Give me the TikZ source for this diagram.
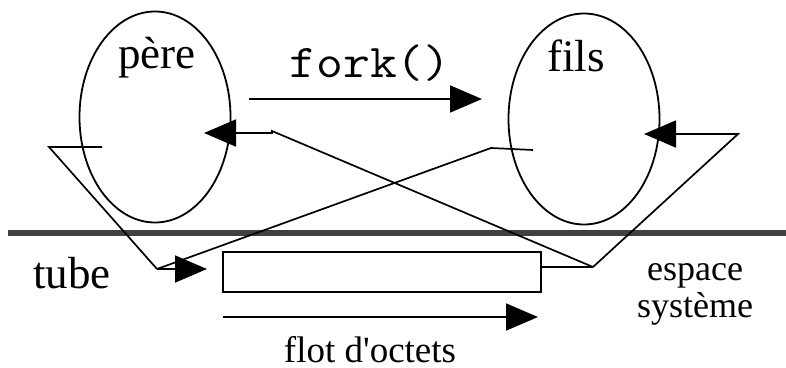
\documentclass[tikz,border=0pt]{standalone}
\usepackage{fontspec}
\usepackage{graphicx}
\setmainfont{Liberation Serif}[Ligatures=TeXOff]
\usetikzlibrary{shapes.geometric,arrows.meta}
\begin{document}
\begin{tikzpicture}[x=1pt,y=-1pt,
  ln/.style={line width=1.7pt, line join=miter},
  arr/.style={ln, -{Triangle[length=32pt,width=27pt]}},
  proc/.style={draw, ellipse, line width=1.8pt, minimum width=151pt, minimum height=211pt, inner sep=0pt},
  big/.style={font=\fontsize{45}{50}\selectfont, inner sep=0pt, anchor=base},
  small/.style={font=\fontsize{36}{40}\selectfont, inner sep=0pt, anchor=base},
  mono/.style={font=\fontsize{47}{50}\selectfont\ttfamily, inner sep=0pt, anchor=base}]
\useasboundingbox (0,0) rectangle (786,367);
% separator
\draw[line width=6pt, color=black!75] (8,233) -- (786,233);
% processes
\node[proc] (pere) at (155,117) {};
\node[proc] (fils) at (584,119) {};
\node[big] (lpere) at (157,68) {père};
\node[big] (lfils) at (576,71) {fils};
\node[mono] (lfork) at (370,77) {\scalebox{1.11}[1]{fork()}};
\node[big] (ltube) at (72,288) {tube};
\node[small] (lesp) at (695,280) {espace};
\node[small] (lsys) at (695,317) {système};
\node[font=\fontsize{37}{40}\selectfont, inner sep=0pt, anchor=base] (lflot) at (370,362) {flot d'octets};
% tube
\node[draw, line width=1.8pt, minimum width=318pt, minimum height=40pt, inner sep=0pt] (tube) at (382,272) {};
% coordinates
\coordinate (fk0) at (249,99);
\coordinate (fk1) at (482,99);
\coordinate (pw) at (102,147);
\coordinate (pwc) at (49,147);
\coordinate (fw) at (533,150);
\coordinate (fwc) at (491,148);
\coordinate (j) at (157,269);
\coordinate (jt) at (207,269);
\coordinate (r) at (593,267);
\coordinate (pr1) at (272,131);
\coordinate (pr2) at (272,133);
\coordinate (ptip) at (204,133);
\coordinate (fr) at (738,134);
\coordinate (ftip) at (644,134);
\coordinate (fl0) at (223,317);
\coordinate (fl1) at (538,317);
% connectors
\draw[arr] (fk0) -- (fk1);
\draw[ln] (pw) -- (pwc) -- (j);
\draw[ln] (fw) -- (fwc) -- (j);
\draw[arr] (j) -- (jt);
\draw[ln] (r) -- (r -| tube.east);
\draw[arr] (r) -- (pr1) -- (pr2) -- (ptip);
\draw[arr] (r) -- (fr) -- (ftip);
\draw[arr] (fl0) -- (fl1);
\end{tikzpicture}
\end{document}
